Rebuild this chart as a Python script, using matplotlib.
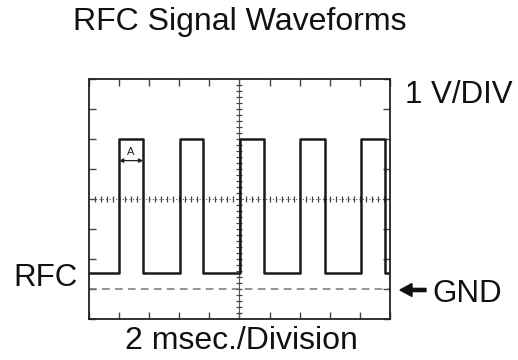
import numpy as np
import matplotlib
matplotlib.use("Agg")
import matplotlib.pyplot as plt

plt.rcParams['font.family'] = ['Liberation Sans', 'DejaVu Sans']

# Data (time in ms, voltage in V)
edge_times = [0.0, 2.0, 3.6, 6.05, 7.6, 10.05, 11.6, 14.05, 15.7, 18.05, 19.65, 20.0]
edge_levels = [0.55, 5.0, 0.55, 5.0, 0.55, 5.0, 0.55, 5.0, 0.55, 5.0, 0.55, 0.55]
gnd_level = 0.0
width_a = [2.0, 3.6]
title = "RFC Signal Waveforms"
volt_label = "1 V/DIV"
time_label = "2 msec./Division"

fig = plt.figure(figsize=(5.18, 3.6), dpi=100)
ax = fig.add_axes([89/518, 41/360, 301/518, 240/360])
ax.set_xlim(0, 20)
ax.set_ylim(-1, 7)

for s in ax.spines.values():
    s.set_linewidth(1.3)
    s.set_color('#222222')
ax.set_xticks(np.arange(0, 21, 2))
ax.set_yticks(np.arange(-1, 8, 1))
ax.tick_params(direction='in', length=5, width=1.0, color='#444444',
               top=True, right=True, labelbottom=False, labelleft=False)

# center graticule lines with fine ticks
ax.axhline(3, color='#555555', lw=0.8, ls=(0, (1, 2)))
ax.axvline(10, color='#555555', lw=0.8)
xs = np.arange(0.4, 20, 0.4)
ax.plot(xs, np.full_like(xs, 3), ls='none', marker='|', ms=4, color='#444444', mew=0.9)
ys = np.arange(-0.8, 7, 0.2)
ax.plot(np.full_like(ys, 10), ys, ls='none', marker='_', ms=4, color='#444444', mew=0.9)

# GND dashed line
ax.axhline(gnd_level, color='#777777', lw=1.1, ls=(0, (5, 3.5)))

# Signal
ax.plot(edge_times, edge_levels, drawstyle='steps-post', color='#1a1a1a', lw=1.8)

# width A arrow
ax.annotate('', xy=(width_a[0], 4.28), xytext=(width_a[1], 4.28),
            arrowprops=dict(arrowstyle='<|-|>', color='#222222', lw=0.9,
                            mutation_scale=6, shrinkA=0, shrinkB=0))
ax.text(sum(width_a)/2, 4.4, 'A', ha='center', va='bottom', fontsize=8, color='#222222')

# texts
fs = 22.5
fig.text(73/518, 1 - 30/360, title, fontsize=23, ha='left', va='baseline', color='#111111')
fig.text(405/518, 1 - 103/360, volt_label, fontsize=fs, ha='left', va='baseline', color='#111111')
fig.text(13/518, 1 - 286/360, 'RFC', fontsize=fs, ha='left', va='baseline', color='#111111')
fig.text(432/518, 1 - 302/360, 'GND', fontsize=fs, ha='left', va='baseline', color='#111111')
fig.text(241/518, 1 - 349/360, time_label, fontsize=23, ha='center', va='baseline', color='#111111')
fig.patches.append(matplotlib.patches.FancyArrow(
    426/518, 1 - 290/360, -26/518, 0, width=0.009, head_width=0.036,
    head_length=12/518, length_includes_head=True, color='#111111',
    transform=fig.transFigure))

fig.savefig('out.png', dpi=100)
